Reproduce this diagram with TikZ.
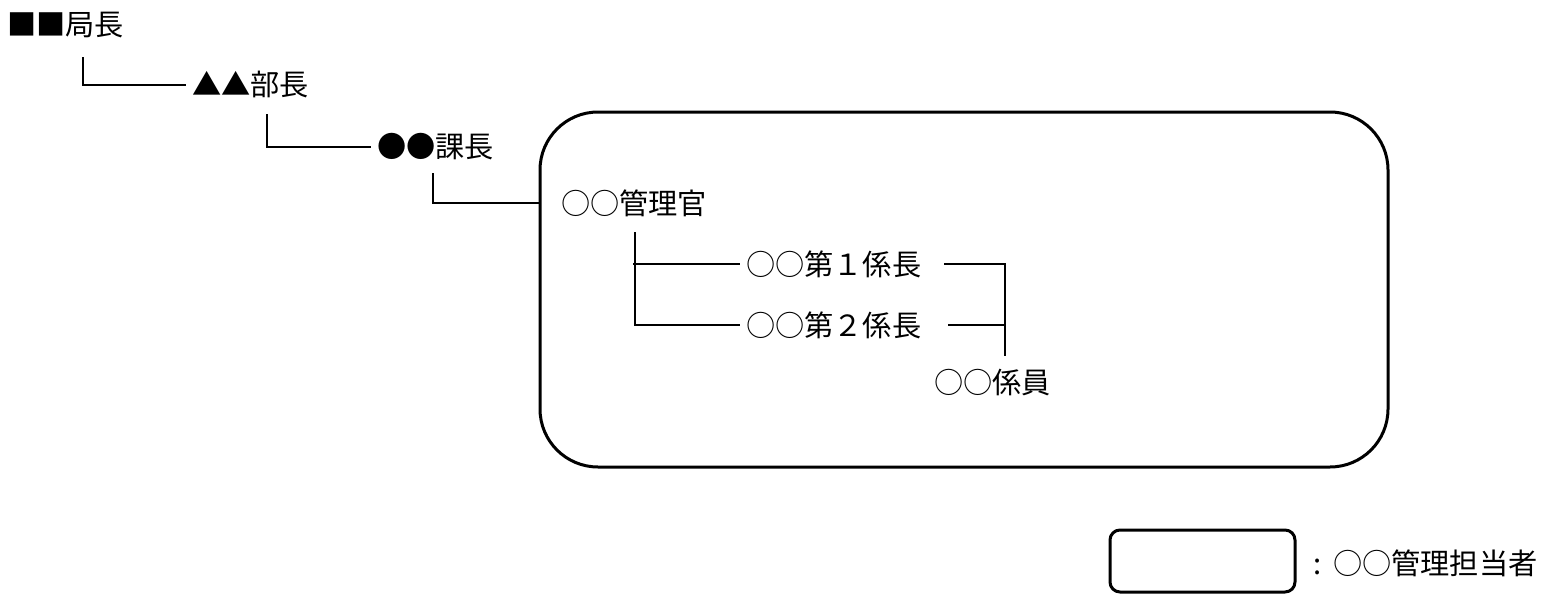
\documentclass[tikz,border=0pt]{standalone}
\usepackage{fontspec}
\setmainfont{Noto Sans CJK JP}
\usetikzlibrary{positioning}
\usetikzlibrary{calc}
\tikzset{
	post/.style={anchor=west, inner sep=0pt, outer xsep=3pt, font=\fontsize{14.6pt}{16pt}\selectfont},
	% frame round the managed unit
	unit/.style={draw, line width=1.5pt, rounded corners=29pt},
	legendbox/.style={draw, line width=1.5pt, rounded corners=5pt, minimum width=92.5pt, minimum height=31pt},
}

\begin{document}
\begin{tikzpicture}[x=0.5pt, y=-0.5pt]
		\useasboundingbox (0,0) rectangle (1548,594);
		
		\node (kyoku) [post] at (1,25) {■■局長};
		
		\node (bucho) [post] at (186,85) {▲▲部長};
		
		\node (kacho) [post] at (371,147) {●●課長};
		
		\node (box) [unit, minimum width=424pt, minimum height=177.5pt] at (964,289.5) {};
		
		\node (kanri) [post] at (555,203) {○○管理官};
		
		\node (kakari1) [post] at (740,264) {○○第１係長};
		
		\node (kakari2) [post] at (740,325) {○○第２係長};
		
		\node (kakariin) [post] at (928,383) {○○係員};
		
		%\node (legend) ...
		\node (legend) [legendbox] at (1202.5,561) {};
		\node (legendtext) [post] at (1307,563) {:\hspace{6pt}○○管理担当者};
		
		\coordinate (kyokuDown) at (83,57);
		\coordinate (buchoDown) at (267,114);
		\coordinate (kachoDown) at (433,173);
		\coordinate (kanriDown) at (635,232);
		\coordinate (kakariUp) at (1005,356);
		
		\begin{scope}[line width=0.75pt, black]
			\draw (kyokuDown) |- (bucho.west);
			\draw (buchoDown) |- (kacho.west);
			\draw (kachoDown) |- (box.west |- kanri.west);
			\draw (kanriDown) |- (kakari2.west);
			\draw ([xshift=-1pt]kanriDown |- kakari1.west) -- (kakari1.west);
			\draw ([xshift=8.5pt]kakari1.east) -| (kakariUp);
			\draw ([xshift=10.5pt]kakari2.east) -- (kakari2.east -| kakariUp);
		\end{scope}
	\end{tikzpicture}
\end{document}
